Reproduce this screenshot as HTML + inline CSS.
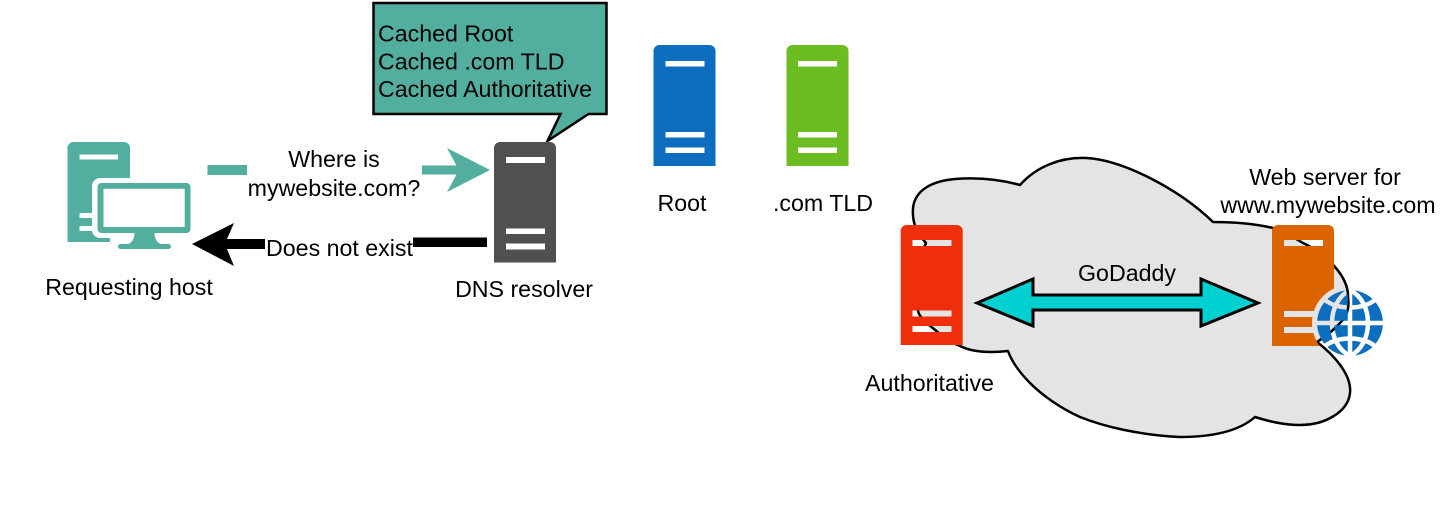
<!DOCTYPE html>
<html>
<head>
<meta charset="utf-8">
<style>
html,body{margin:0;padding:0;background:#fff;width:1456px;height:505px;overflow:hidden}
svg{display:block}
text{font-family:"Liberation Sans",sans-serif;font-size:23.2px;fill:#000}
</style>
</head>
<body>
<svg width="1456" height="505" viewBox="0 0 1456 505" xmlns="http://www.w3.org/2000/svg">
<defs>
<mask id="halo" maskUnits="userSpaceOnUse" x="0" y="0" width="1456" height="505">
<rect width="1456" height="505" fill="#fff"/>
<circle cx="1350" cy="323" r="38" fill="#000"/>
</mask>
<mask id="globe" maskUnits="userSpaceOnUse" x="1300" y="270" width="100" height="110">
<circle cx="1350" cy="323" r="33" fill="#fff"/>
<g fill="none" stroke="#000" stroke-width="4.500">
<line x1="1350" y1="288" x2="1350" y2="358"/>
<line x1="1315" y1="323" x2="1385" y2="323"/>
<path d="M1350 290C1326 302 1326 344 1350 356"/>
<path d="M1350 290C1374 302 1374 344 1350 356"/>
<path d="M1325 300C1338 310 1362 310 1375 300"/>
<path d="M1325 346C1338 336 1362 336 1375 346"/>
</g>
</mask>
</defs>

<!-- Host -->
<path fill="#52ae9e" fill-rule="evenodd" d="M67.500 148a6 6 0 0 1 6-6h50.500a6 6 0 0 1 6 6v94h-62.500zM79.500 154.500v5h38.500v-5zM79.500 213v5h13v-5zM79.500 226v5h13v-5z"/>
<rect x="92" y="178" width="104" height="60" rx="8" fill="#fff"/>
<rect x="110" y="232" width="70" height="20" fill="#fff"/>
<path fill="#52ae9e" fill-rule="evenodd" d="M101.500 183h85a4 4 0 0 1 4 4v42a4 4 0 0 1-4 4h-32c0 5 2 9 6 11h8a2.500 2.500 0 0 1 0 5h-48a2.500 2.500 0 0 1 0-5h8c4-2 6-6 6-11h-33a4 4 0 0 1-4-4v-42a4 4 0 0 1 4-4zM103.500 188.700v38.300h81.200v-38.300z"/>

<!-- Request arrow -->
<rect x="207.500" y="165" width="39.500" height="10" fill="#52ae9e"/>
<path fill="#52ae9e" d="M422 165.500h34.500l-9.500-17.500 43 22-43 22 9.500-17.500h-34.500z"/>
<text x="334" y="167" text-anchor="middle">Where is</text>
<text x="334" y="196" text-anchor="middle">mywebsite.com?</text>

<!-- Response arrow -->
<path fill="#000" d="M265 239h-38l7-16-42 21 42 22-7-17h38z"/>
<rect x="413" y="237.500" width="74" height="9.500" fill="#000"/>
<text x="339.500" y="256" text-anchor="middle">Does not exist</text>

<text x="129" y="295" text-anchor="middle">Requesting host</text>

<!-- Callout -->
<path fill="#52ae9e" stroke="#000" stroke-width="2.500" d="M373.500 3h233v111h-18l-41 27 13-27h-187z"/>
<text x="378" y="41.500">Cached Root</text>
<text x="378" y="69.500">Cached .com TLD</text>
<text x="378" y="97">Cached Authoritative</text>

<!-- DNS resolver -->
<path fill="#505050" fill-rule="evenodd" d="M494 148a6 6 0 0 1 6-6h50a6 6 0 0 1 6 6v114.500h-62zM506 157v6h39v-6zM506 228.500v5.500h39v-5.500zM506 243.500v6h39v-6z"/>
<text x="524" y="297" text-anchor="middle">DNS resolver</text>

<!-- Root -->
<path fill="#0d6ebf" fill-rule="evenodd" d="M653.500 51a6 6 0 0 1 6-6h50a6 6 0 0 1 6 6v115h-62zM665.500 61v5.500h39v-5.500zM665.500 132v5.500h39v-5.500zM665.500 147.500v5.500h39v-5.500z"/>
<text x="682" y="211" text-anchor="middle">Root</text>

<!-- TLD -->
<path fill="#6cbd22" fill-rule="evenodd" d="M786.500 51a6 6 0 0 1 6-6h50a6 6 0 0 1 6 6v115h-62zM798 61v5.500h39v-5.500zM798 132v5.500h39v-5.500zM798 147.500v5.500h39v-5.500z"/>
<text x="823" y="211" text-anchor="middle">.com TLD</text>

<!-- Cloud -->
<path fill="#e4e4e4" stroke="#000" stroke-width="2.500" stroke-linejoin="round" d="M926 243C916 232 912 222 913 208C915 190 932 181 955 179C980 177 1002 180 1020 185C1036 167 1060 157 1086 158C1124 160 1180 190 1213 222C1235 222 1256 224 1273 228C1283 232 1295 238 1303 243C1318 250 1328 258 1335 267C1342 275 1348 285 1348 296C1349 305 1349 315 1340 323C1334 330 1326 336 1317 342C1334 355 1352 375 1350 393C1348 412 1325 425 1300 425C1283 425 1268 421 1255 417C1238 432 1210 437 1180 437C1140 435 1105 427 1080 417C1060 408 1042 395 1030 383C1019 372 1012 362 1008 351C990 353 972 352 960 346C950 342 942 336 934 329C926 323 922 319 919 314C912 295 914 268 926 243Z"/>

<!-- Authoritative -->
<path fill="#ef2e0b" fill-rule="evenodd" d="M900.700 231a6 6 0 0 1 6-6h50a6 6 0 0 1 6 6v114h-62zM912.500 240v6h39v-6zM912.500 310.500v6h39v-6zM912.500 326v6h39v-6z"/>
<text x="929.500" y="391" text-anchor="middle">Authoritative</text>

<!-- Web server -->
<g mask="url(#halo)">
<path fill="#db6300" fill-rule="evenodd" d="M1272 231a6 6 0 0 1 6-6h50a6 6 0 0 1 6 6v115h-62zM1284 240v6h39v-6zM1284 311v6h39v-6zM1284 327v6h39v-6z"/>
</g>
<circle cx="1350" cy="323" r="33" fill="#0d6ebf" mask="url(#globe)"/>
<text x="1325" y="185" text-anchor="middle">Web server for</text>
<text x="1328" y="213" text-anchor="middle">www.mywebsite.com</text>

<!-- GoDaddy -->
<path fill="#00d0d0" stroke="#000" stroke-width="3" d="M977 303l56-24v16h168v-16l57 24-57 23v-16h-168v16z"/>
<text x="1127" y="281" text-anchor="middle">GoDaddy</text>
</svg>
</body>
</html>
